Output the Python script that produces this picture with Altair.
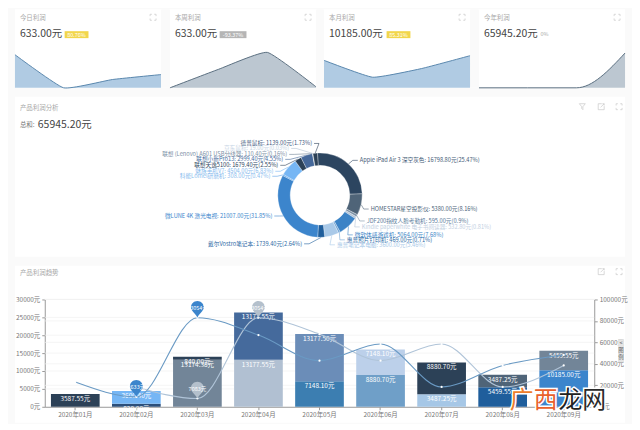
import math
import altair as alt
import pandas as pd

FONT = "Noto Sans CJK SC"

# ---------- values ----------
card_titles = ["今日利润", "本周利润", "本月利润", "今年利润"]
card_values = ["633.00元", "633.00元", "10185.00元", "65945.20元"]
card_badges = ["80.76%", "-93.37%", "85.31%", "0%"]
card_series = [
    [100, 0, 25, 40],
    [0, 56, 107, 3],
    [83, 32, 58, 97],
    [0, 0, 0, 105],
]

pie_names = ["Apple iPad Air 3 深空灰色", "HOMESTAR星空投影仪", "JDF200指纹人脸考勤机",
             "Kindle paperwhite 电子书阅读器", "微软体感游戏机", "惠普照片打印机",
             "惠普笔记本电脑", "戴尔Vostro笔记本", "微LUNE 4K 激光电视", "科能Lomel研磨机",
             "魅族手机V7", "联想天逸5100", "联想小新Pro13", "联想 (Lenovo) A601 USB分线器",
             "京东鼠标", "德普鼠标"]
pie_values = [16798.80, 5380.00, 595.00, 532.80, 5064.00, 469.00, 3600.00, 1739.40,
              21007.00, 308.00, 4504.00, 1679.40, 2999.40, 110.40, 19.00, 1139.00]
pie_pcts = ["25.47", "8.16", "0.9", "0.81", "7.68", "0.71", "5.46", "2.64",
            "31.85", "0.47", "6.83", "2.55", "4.55", "0.16", "0.03", "1.73"]

months = ["2020年01月", "2020年02月", "2020年03月", "2020年04月", "2020年05月",
          "2020年06月", "2020年07月", "2020年08月", "2020年09月"]
bar_lower = [0, 820.00, 13174.38, 13177.55, 7148.10, 8880.70, 3487.25, 5459.55, 10185.00]
bar_upper = [3587.55, 3600.40, 840.00, 13177.55, 13177.50, 7148.10, 8880.70, 3487.25, 5459.55]
line_a = [23000, 9200, 83000, 66800, 43000, 58500, 18500, 38500, 48300]
line_b = [None, 18500, 7700, 83000, 67700, 43000, 58500, 18500, 38500]
pin_months = ["2020年02月", "2020年03月", "2020年03月", "2020年04月"]
pin_values = [9200, 83000, 7700, 83000]
pin_labels = ["2633元", "83054元", "7083元", "83054元"]

# ---------- styles / layout ----------
BG = "#fafafa"
AREA_STYLE = [("#b0cbe3", "#5a87ad"), ("#bcc7d1", "#5b6f80"), ("#b0cbe3", "#5a87ad"), ("#bcc7d1", "#5b6f80")]
AREA_CURVE = ["cardinal", "cardinal", "cardinal", "monotone"]
BADGE_STYLE = [("#f2d64b", 63, 87), ("#b5b5b5", 219, 246), ("#f2d64b", 387, 411), (None, 542, 552)]
PIE_COLORS = ["#2c4560", "#4f6478", "#7d92a6", "#b4c4d6", "#3c83c6", "#6fa3d4", "#a9c9e8", "#1f5e9c",
              "#3c85cc", "#5ba1e6", "#76b6f4", "#2c4157", "#45689a", "#728598", "#b1c0d2", "#2c4157"]
PIE_TEXT = ["#3f5a75", "#4a6278", "#5a7a9a", "#c2cfdf", "#3d85c6", "#2c6aa5", "#a9c9e8", "#2c6aa5",
            "#3a85cc", "#88bbee", "#88bbee", "#2c4560", "#456a9c", "#7c90a5", "#c6d4e4", "#3f5a80"]
LABEL_ANCHORS = [(360, 160, "left"), (371, 209, "left"), (367, 221, "left"), (362, 227, "left"),
                 (355, 235, "left"), (347, 240, "left"), (337, 245, "left"), (302, 244, "right"),
                 (272, 216, "right"), (270, 176, "right"), (273, 171, "right"), (278, 165, "right"),
                 (283, 159, "right"), (287, 154, "right"), (289, 148, "right"), (312, 143, "right")]
LOWER_COLORS = ["#2c4157", "#2c4f7a", "#728598", "#b1c0d2", "#3c7eb1", "#6f9fc8", "#a6c7e6", "#1f5e9c", "#3c85cc"]
UPPER_COLORS = ["#2c4157", "#75b6f5", "#2c4157", "#456a9c", "#6b8db8", "#bcd0ea", "#2c4157", "#4f6478", "#728598"]
PIN_COLORS = ["#3c85cc", "#3c85cc", "#b4c0cc", "#b4c0cc"]
CARD_X = [13, 169, 324, 480]
CARD_W = 147
ROW_Y = [8, 96, 266]
PIN_PATH = "M0 0C-.2 -.6 -1 -1 -1 -1.6A1 1 0 1 1 1 -1.6C1 -1 .2 -.6 0 0Z"
EXPAND_PATH = "M-1 -.4V-1H-.4M.4 -1H1V-.4M1 .4V1H.4M-.4 1H-1V.4"
BOX_PATH = "M.2 -1H-1V1H1V-.2M-.2 .2L1 -1M.4 -1H1V-.4"
FUNNEL_PATH = "M-1 -1H1L.2 0V1L-.2 .6V0Z"
ONE = alt.Data(values=[{"a": 1}])


def txt(ox, oy, x, y, text, size=7, color="#999", align="left", weight=None):
    kw = {"fontWeight": weight} if weight else {}
    return alt.Chart(alt.Data(values=[{"t": text}])).mark_text(
        font=FONT, fontSize=size, color=color, align=align, baseline="middle", **kw
    ).encode(x=alt.value(x - ox), y=alt.value(y - oy), text="t:N")


def box(ox, oy, x0, x1, y0, y1, color):
    return alt.Chart(ONE).mark_rect(color=color).encode(
        x=alt.value(x0 - ox), x2=alt.value(x1 - ox), y=alt.value(y0 - oy), y2=alt.value(y1 - oy))


def icon(ox, oy, x, y, path, size=49):
    return alt.Chart(ONE).mark_point(shape=path, size=size, filled=False, color="#c8c8c8", strokeWidth=0.7, opacity=1).encode(
        x=alt.value(x - ox), y=alt.value(y - oy))


# ---------- row 1: one view, four independent pairs of scales, gaps painted over ----------
ox, oy = 13, ROW_Y[0]
parts1 = []
for left, nxt in zip(CARD_X[:-1], CARD_X[1:]):
    parts1.append(box(ox, oy, left + CARD_W, nxt, 8, 87, BG))
for i in range(4):
    left = CARD_X[i]
    df = pd.DataFrame({"i": range(4), "v": card_series[i]})
    fill, stroke = AREA_STYLE[i]
    area = alt.Chart(df).mark_area(
        interpolate=AREA_CURVE[i], tension=0.6, color=fill, opacity=1,
        line={"color": stroke, "strokeWidth": 1}
    ).encode(
        x=alt.X("i:Q", axis=None, scale=alt.Scale(domain=[0, 3], range=[left - ox, left - ox + CARD_W], nice=False)),
        y=alt.Y("v:Q", axis=None, scale=alt.Scale(domain=[0, 120], range=[79, 39], nice=False, clamp=True)),
    )
    tx = left + 5
    parts1 += [area, txt(ox, oy, tx, 17, card_titles[i], 6.5, "#a8a8a8"),
               txt(ox, oy, tx, 33, card_values[i], 10.5, "#444"),
               icon(ox, oy, left + 139, 16, EXPAND_PATH, 36)]
    col, b0, b1 = BADGE_STYLE[i]
    if col:
        parts1.append(box(ox, oy, b0, b1, 30, 37, col))
        parts1.append(txt(ox, oy, (b0 + b1) / 2, 33.5, card_badges[i], 5.5, "#fff", "center"))
    else:
        parts1.append(txt(ox, oy, b0, 33, card_badges[i], 5.5, "#aaa"))
row1 = alt.layer(*parts1).resolve_scale(x="independent", y="independent").properties(width=614, height=79)

# ---------- row 2 ----------
ox, oy = 13, ROW_Y[1]
CX, CY, R, R0 = 320, 195, 42.5, 30
TILT = -0.06
total = sum(pie_values)
pie_df = pd.DataFrame({"name": pie_names, "v": pie_values, "k": range(len(pie_names))})
color_scale = alt.Scale(domain=pie_names, range=PIE_COLORS)
arcs = alt.Chart(pie_df).mark_arc(innerRadius=R0, outerRadius=R, stroke="#fff", strokeWidth=0.3).encode(
    theta=alt.Theta("v:Q", stack=True, scale=alt.Scale(range=[TILT, 2 * math.pi + TILT])),
    order=alt.Order("k:Q"),
    color=alt.Color("name:N", scale=color_scale, legend=None),
    x=alt.value(CX - ox), y=alt.value(CY - oy),
)
rows = []
acc = 0.0
for n, v, (lx, ly, al) in zip(pie_names, pie_values, LABEL_ANCHORS):
    a = TILT + 2 * math.pi * (acc + v / 2) / total
    acc += v
    sx, sy = CX + R * math.sin(a), CY - R * math.cos(a)
    sign = 1 if al == "left" else -1
    ex = lx - 2 * sign
    rows += [{"name": n, "o": 0, "x": sx - ox, "y": sy - oy},
             {"name": n, "o": 1, "x": ex - 5 * sign - ox, "y": ly - oy},
             {"name": n, "o": 2, "x": ex - ox, "y": ly - oy}]
leaders = alt.Chart(pd.DataFrame(rows)).mark_line(strokeWidth=0.6).encode(
    x=alt.X("x:Q", scale=None, axis=None), y=alt.Y("y:Q", scale=None, axis=None),
    order="o:Q", color=alt.Color("name:N", scale=color_scale, legend=None),
)
labels = []
for n, v, p, c, (lx, ly, al) in zip(pie_names, pie_values, pie_pcts, PIE_TEXT, LABEL_ANCHORS):
    labels.append(txt(ox, oy, lx, ly, f"{n}: {v:.2f}元({p}%)", 5.7, c, al))
row2 = alt.layer(
    leaders, arcs, *labels,
    txt(ox, oy, 18, 107, "产品利润分析", 6.5, "#a8a8a8"),
    txt(ox, oy, 18, 124, "总和:", 6.5, "#777"),
    txt(ox, oy, 36, 124, "65945.20元", 10.5, "#444"),
    icon(ox, oy, 584, 106, FUNNEL_PATH, 36), icon(ox, oy, 603, 106, BOX_PATH, 36), icon(ox, oy, 621, 106, EXPAND_PATH, 36),
).properties(width=614, height=161)

# ---------- row 3 ----------
ox, oy = 13, ROW_Y[2]
x_scale = alt.Scale(domain=months, range=[43 - ox, 596 - ox], paddingInner=0.2, paddingOuter=0.1)
y_range = [408 - oy, 300 - oy]
yL = alt.Scale(domain=[0, 30000], range=y_range, nice=False)
yR = alt.Scale(domain=[0, 100000], range=y_range, nice=False)

seg = []
for m, lo, up, cl, cu in zip(months, bar_lower, bar_upper, LOWER_COLORS, UPPER_COLORS):
    if lo:
        seg.append({"m": m, "k": 0, "v": lo, "c": cl})
    seg.append({"m": m, "k": 1, "v": up, "c": cu})
seg_df = pd.DataFrame(seg)
base = alt.Chart(seg_df).transform_stack(stack="v", groupby=["m"], sort=[{"field": "k"}], as_=["y0", "y1"])

x_axis = alt.Axis(title=None, labelFontSize=6.5, labelColor="#777", labelAngle=0, labelOverlap=False,
                  domainColor="#999", tickColor="#999", tickSize=3, offset=408 - (oy + 158), labelFont=FONT, labelPadding=2)
bars = base.mark_bar(width=49).encode(
    x=alt.X("m:N", scale=x_scale, sort=months, axis=x_axis),
    y=alt.Y("y0:Q", scale=yL, axis=alt.Axis(
        title=None, values=[0, 5000, 10000, 15000, 20000, 25000, 30000], labelExpr="datum.value + '元'",
        labelFontSize=6.5, labelColor="#777", domainColor="#999", tickColor="#999", tickSize=3,
        grid=False, offset=ox - 43, labelFont=FONT, labelPadding=2)),
    y2="y1:Q",
    color=alt.Color("c:N", scale=None, legend=None),
)
bar_text = base.mark_text(font=FONT, fontSize=6.5, color="#fff", baseline="middle", dy=5).encode(
    x=alt.X("m:N", scale=x_scale, sort=months),
    y=alt.Y("y1:Q", scale=yL, axis=None),
    text=alt.Text("label:N"),
).transform_calculate(label="format(datum.v, '.2f') + '元'")

grid_left = alt.Chart(pd.DataFrame({"g": [5000, 10000, 15000, 20000, 25000, 30000]})).mark_rule(color="#f0f0f0", strokeWidth=0.7).encode(
    y=alt.Y("g:Q", scale=yL, axis=None), x=alt.value(43 - ox), x2=alt.value(596 - ox))
grid_right = alt.Chart(pd.DataFrame({"g": [20000, 40000, 60000, 80000, 100000]})).mark_rule(color="#f0f0f0", strokeWidth=0.7).encode(
    y=alt.Y("g:Q", scale=yR, axis=None), x=alt.value(43 - ox), x2=alt.value(596 - ox))
right_axis = alt.Chart(pd.DataFrame({"m": months, "a": line_a})).mark_line(opacity=0).encode(
    x=alt.X("m:N", scale=x_scale, sort=months),
    y=alt.Y("a:Q", scale=yR, axis=alt.Axis(
        title=None, orient="right", values=[0, 20000, 40000, 60000, 80000, 100000], labelExpr="datum.value + '元'",
        labelFontSize=6.5, labelColor="#777", domainColor="#999", tickColor="#999", tickSize=3,
        grid=False, offset=596 - (ox + 614), labelFont=FONT, labelPadding=2)),
)


def series(vals, color):
    df = pd.DataFrame({"m": months, "a": vals}).dropna()
    enc = dict(x=alt.X("m:N", scale=x_scale, sort=months), y=alt.Y("a:Q", scale=yR, axis=None))
    return (alt.Chart(df).mark_line(interpolate="monotone", color=color, strokeWidth=1.1).encode(**enc),
            alt.Chart(df).mark_point(filled=True, color="#fff", size=5, opacity=1).encode(**enc))


la, pa = series(line_a, "#6a9ac4")
lb, pb = series(line_b, "#b0c4d8")
pin_df = pd.DataFrame({"m": pin_months, "a": pin_values, "t": pin_labels, "k": range(4)})
pin_enc = dict(x=alt.X("m:N", scale=x_scale, sort=months), y=alt.Y("a:Q", scale=yR, axis=None))
pins = alt.Chart(pin_df).mark_point(shape=PIN_PATH, size=169, filled=True, opacity=1).encode(
    color=alt.Color("k:N", scale=alt.Scale(domain=[0, 1, 2, 3], range=PIN_COLORS), legend=None), **pin_enc)
pin_text = alt.Chart(pin_df).mark_text(font=FONT, fontSize=5.5, color="#fff", dy=-10, baseline="middle").encode(text="t:N", **pin_enc)

wm = [("广", 523, "#ee7d2b"), ("西", 547, "#e8602c"), ("龙", 572, "#222"), ("网", 596, "#2a2a2a")]
wm_layers = []
for ch, x, c in wm:
    wm_layers.append(alt.Chart(alt.Data(values=[{"t": ch}])).mark_text(
        font=FONT, fontSize=24, align="center", baseline="middle", color="#fff", stroke="#fff", strokeWidth=3
    ).encode(x=alt.value(x - ox), y=alt.value(402 - oy), text="t:N"))
for ch, x, c in wm:
    wm_layers.append(txt(ox, oy, x, 402, ch, 24, c, "center"))

row3 = alt.layer(
    grid_left, grid_right, bars, bar_text, right_axis, lb, la, pb, pa, pins, pin_text,
    txt(ox, oy, 18, 273, "产品利润趋势", 6.5, "#a8a8a8"),
    icon(ox, oy, 603, 272, BOX_PATH, 36), icon(ox, oy, 621, 272, EXPAND_PATH, 36),
    box(ox, oy, 620, 626, 340, 363, "#e4e4e4"),
    txt(ox, oy, 623, 344, "<", 5.5, "#666", "center"),
    txt(ox, oy, 623, 351, "图", 5.5, "#666", "center"),
    txt(ox, oy, 623, 358, "例", 5.5, "#666", "center"),
    *wm_layers,
).resolve_scale(y="independent", color="independent").properties(width=614, height=158)

chart = alt.vconcat(row1, row2, row3, spacing=9, bounds="flush").properties(
    padding={"left": 5, "top": 0, "right": 4, "bottom": 0},
    background=BG,
).configure_view(fill="#ffffff", strokeWidth=0)

chart.save("out.html", embed_options={"renderer": "svg", "actions": False})
